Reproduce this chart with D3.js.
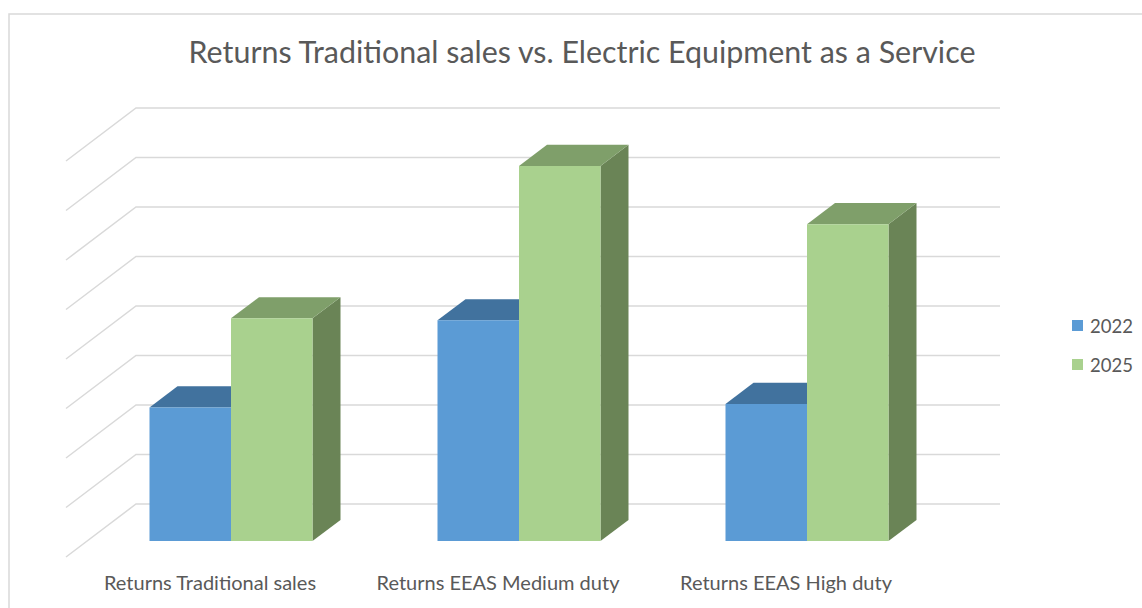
<!DOCTYPE html>
<html>
<head>
<meta charset="utf-8">
<script src="https://cdn.jsdelivr.net/npm/d3@7"></script>
<style>
  html, body { margin: 0; padding: 0; background: #ffffff; }
  svg { display: block; }
  text { font-family: Lato, "Open Sans", sans-serif; fill: #595959; }
</style>
</head>
<body>
<svg id="chart" width="1142" height="608"></svg>
<script>
// Chart data
const title = "Returns Traditional sales vs. Electric Equipment as a Service";
const categories = ["Returns Traditional sales", "Returns EEAS Medium duty", "Returns EEAS High duty"];
const seriesNames = ["2022", "2025"];
const values2022 = [2.7, 4.46, 2.77];
const values2025 = [4.5, 7.58, 6.4];
const valueTicks = [0, 1, 2, 3, 4, 5, 6, 7, 8];

const seriesValues = [values2022, values2025];
const faceColors = {
  "2022": { front: "#5b9bd5", top: "#41729e", side: "#3d6a93" },
  "2025": { front: "#a9d18e", top: "#7f9f6a", side: "#6a8456" }
};

const svg = d3.select("#chart");

// Back wall geometry and depth projection
const wallLeft = 136, wallRight = 1000;
const depthDX = -70, depthDY = 53;          // offset from back wall to front edge of floor
const barDepthBack = 0.3, barDepthFront = 0.7;

const y = d3.scaleLinear().domain([0, 8]).range([504, 108]);
const x0 = d3.scaleBand().domain(categories).range([wallLeft, wallRight])
  .paddingInner(0.434).paddingOuter(0.217);
const x1 = d3.scaleBand().domain(seriesNames).range([0, x0.bandwidth()]);

const proj = (xb, v, d) => [xb + depthDX * d, y(v) + depthDY * d];

// Chart area border
svg.append("rect")
  .attr("x", 9).attr("y", 14).attr("width", 1150).attr("height", 620)
  .attr("fill", "none").attr("stroke", "#d9d9d9").attr("stroke-width", 1.5);

// Title
svg.append("text")
  .attr("x", 582).attr("y", 63)
  .attr("text-anchor", "middle")
  .style("font-size", "30.4px")
  .text(title);

// Gridlines: back wall and left side wall
const grid = svg.append("g").attr("stroke", "#d9d9d9").attr("stroke-width", 1.5).attr("fill", "none");
valueTicks.forEach(t => {
  const a = proj(wallLeft, t, 1), b = proj(wallLeft, t, 0), c = proj(wallRight, t, 0);
  grid.append("path").attr("d", d3.line()([a, b, c]));
});

// Bars drawn as three visible faces (front, top, right side)
const bars = svg.append("g");
categories.forEach((cat, ci) => {
  seriesNames.forEach((s, si) => {
    const v = seriesValues[si][ci];
    const xl = x0(cat) + x1(s);
    const xr = xl + x1.bandwidth();
    const col = faceColors[s];
    const f = barDepthFront, b = barDepthBack;
    const poly = pts => "M" + pts.map(p => p.join(",")).join("L") + "Z";
    // right side face
    bars.append("path").attr("fill", col.side)
      .attr("d", poly([proj(xr, 0, f), proj(xr, v, f), proj(xr, v, b), proj(xr, 0, b)]));
    // top face
    bars.append("path").attr("fill", col.top)
      .attr("d", poly([proj(xl, v, f), proj(xr, v, f), proj(xr, v, b), proj(xl, v, b)]));
    // front face
    bars.append("path").attr("fill", col.front)
      .attr("d", poly([proj(xl, 0, f), proj(xr, 0, f), proj(xr, v, f), proj(xl, v, f)]));
  });
});

// Category labels along the front edge of the floor
svg.append("g").selectAll("text").data(categories).join("text")
  .attr("x", d => x0(d) + x0.bandwidth() / 2 + depthDX)
  .attr("y", 590)
  .attr("text-anchor", "middle")
  .style("font-size", "20px")
  .text(d => d);

// Legend
const legend = svg.append("g");
seriesNames.forEach((s, i) => {
  const ly = 320 + i * 39;
  legend.append("rect").attr("x", 1072).attr("y", ly).attr("width", 11).attr("height", 11)
    .attr("fill", faceColors[s].front);
  legend.append("text").attr("x", 1090).attr("y", ly + 13)
    .style("font-size", "18.5px").text(s);
});
</script>
</body>
</html>
